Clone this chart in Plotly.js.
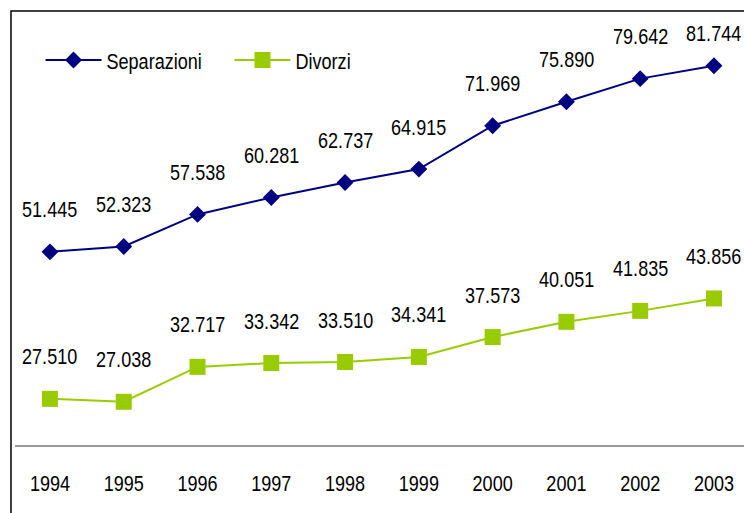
<!DOCTYPE html>
<html>
<head>
<meta charset="utf-8">
<script src="https://cdn.plot.ly/plotly-3.0.1.min.js"></script>
<style>
  html, body { margin: 0; padding: 0; background: #ffffff; }
  #chart { width: 744px; height: 513px; }
</style>
</head>
<body>
<div id="chart"></div>
<script>
// Data
const years = ["1994", "1995", "1996", "1997", "1998", "1999", "2000", "2001", "2002", "2003"];
const separazioni = [51445, 52323, 57538, 60281, 62737, 64915, 71969, 75890, 79642, 81744];
const divorzi = [27510, 27038, 32717, 33342, 33510, 34341, 37573, 40051, 41835, 43856];
const seriesNames = ["Separazioni", "Divorzi"];

const FONT = "'Liberation Sans', Arial, sans-serif";
const NARROW = 0.82; // emulate a narrow face (Arial Narrow)
const navy = "#000080";
const lime = "#99CC00";

const Y_RANGE = [20000, 90000];
const PLOT_H = 430;

function fmt(v) {
  return String(v).replace(/\B(?=(\d{3})+(?!\d))/g, ".");
}

const traces = [
  {
    x: years, y: separazioni, name: seriesNames[0], type: "scatter", mode: "lines+markers",
    line: { color: navy, width: 2 },
    marker: { symbol: "diamond", size: 13, color: navy },
    hoverinfo: "skip"
  },
  {
    x: years, y: divorzi, name: seriesNames[1], type: "scatter", mode: "lines+markers",
    line: { color: lime, width: 2 },
    marker: { symbol: "square", size: 16, color: lime },
    hoverinfo: "skip"
  }
];

const annotations = [];
[separazioni, divorzi].forEach(function (arr) {
  arr.forEach(function (v, i) {
    // keep labels inside the plot area near the top, like the original
    const pxFromTop = (Y_RANGE[1] - v) * PLOT_H / (Y_RANGE[1] - Y_RANGE[0]);
    const shift = Math.min(42, pxFromTop - 18);
    annotations.push({
      x: i, y: v, xref: "x", yref: "y",
      text: fmt(v), showarrow: false, yshift: shift,
      xanchor: "center", yanchor: "middle", borderpad: 0,
      font: { family: FONT, size: 22, color: "#000000" }
    });
  });
});

const layout = {
  width: 744, height: 513,
  margin: { l: 15, r: 0, t: 15, b: 68, pad: 0 },
  paper_bgcolor: "#ffffff", plot_bgcolor: "#ffffff",
  font: { family: FONT, size: 22, color: "#000000" },
  showlegend: true,
  legend: {
    orientation: "h", x: 0.035, y: 0.895, xanchor: "left", yanchor: "middle",
    bgcolor: "rgba(0,0,0,0)", itemwidth: 56, entrywidth: 118,
    font: { family: FONT, size: 22, color: "#000000" }
  },
  xaxis: {
    type: "category", range: [-0.474, 9.407], fixedrange: true,
    showline: true, linecolor: "#999999", linewidth: 2,
    showgrid: false, zeroline: false, ticks: "", ticklabelstandoff: 18,
    tickfont: { family: FONT, size: 22, color: "#000000" }
  },
  yaxis: {
    range: Y_RANGE, fixedrange: true,
    showline: false, showgrid: false, zeroline: false, showticklabels: false, ticks: ""
  },
  shapes: [
    {
      type: "rect", xref: "paper", yref: "paper",
      x0: -0.0055, x1: 1.2, y0: -0.5, y1: 1.0093,
      line: { color: "#000000", width: 1.5 }, fillcolor: "rgba(0,0,0,0)", layer: "below"
    }
  ],
  annotations: annotations
};

Plotly.newPlot("chart", traces, layout, { displayModeBar: false, staticPlot: true }).then(function (gd) {
  gd.querySelectorAll("svg text").forEach(function (t) {
    if (!t.textContent) return;
    const inAnnotation = !!t.closest("g.annotation");
    if (inAnnotation && !t.getAttribute("transform")) {
      // horizontally narrow around the text's centre anchor
      const cx = parseFloat(t.getAttribute("x")) || 0;
      t.setAttribute("transform",
        "translate(" + cx + ",0) scale(" + NARROW + ",1) translate(" + (-cx) + ",0)");
      return;
    }
    const len = t.getComputedTextLength();
    if (len > 0) {
      t.setAttribute("textLength", (len * NARROW).toFixed(2));
      t.setAttribute("lengthAdjust", "spacingAndGlyphs");
    }
  });
  // shrink the (invisible) annotation boxes to the narrowed text
  gd.querySelectorAll("g.annotation-text-g").forEach(function (g) {
    const r = g.querySelector("rect.bg");
    if (!r) return;
    const w = parseFloat(r.getAttribute("width")) || 0;
    const x = parseFloat(r.getAttribute("x")) || 0;
    const nw = w * NARROW;
    r.setAttribute("x", (x + (w - nw) / 2).toFixed(2));
    r.setAttribute("width", nw.toFixed(2));
  });
});
</script>
</body>
</html>
